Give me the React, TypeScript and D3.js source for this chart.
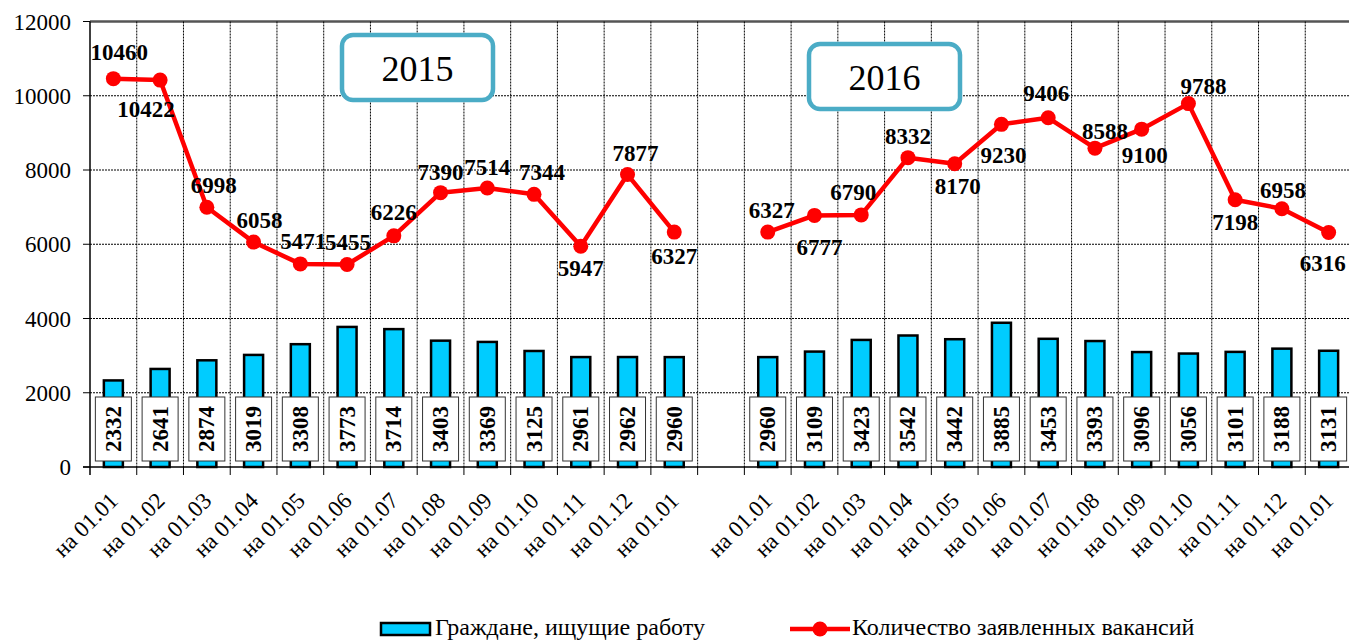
import React from 'react';
import * as d3 from 'd3';

// ---- data ----
const months = ['на 01.01', 'на 01.02', 'на 01.03', 'на 01.04', 'на 01.05', 'на 01.06', 'на 01.07',
  'на 01.08', 'на 01.09', 'на 01.10', 'на 01.11', 'на 01.12', 'на 01.01'];
const years = ['2015', '2016'];
const seekers2015 = [2332, 2641, 2874, 3019, 3308, 3773, 3714, 3403, 3369, 3125, 2961, 2962, 2960];
const seekers2016 = [2960, 3109, 3423, 3542, 3442, 3885, 3453, 3393, 3096, 3056, 3101, 3188, 3131];
const vacancies2015 = [10460, 10422, 6998, 6058, 5471, 5455, 6226, 7390, 7514, 7344, 5947, 7877, 6327];
const vacancies2016 = [6327, 6777, 6790, 8332, 8170, 9230, 9406, 8588, 9100, 9788, 7198, 6958, 6316];
const yTicks = [0, 2000, 4000, 6000, 8000, 10000, 12000];
const seriesNames = ['Граждане, ищущие работу', 'Количество заявленных вакансий'];

// label placement for the line values (dx, dy from the point)
const labelOffsets2015 = [[6, -26], [-14, 29], [7, -22], [6, -22], [3, -22], [1, -22], [0, -23],
  [0, -20], [0, -21], [8, -22], [0, 22], [8, -21], [0, 24]];
const labelOffsets2016 = [[4, -22], [5, 32], [-8, -22], [0, -21], [3, 23], [2, 31], [-2, -24],
  [10, -17], [3, 26], [15, -17], [0, 23], [1, -18], [-6, 31]];

const FONT = "'Liberation Serif', 'Times New Roman', Times, serif";
const W = 1349;
const H = 641;

export default function App() {
  // 13 months of 2015, one empty slot, 13 months of 2016
  const slots = d3.range(27).map(String);
  const x = d3.scaleBand().domain(slots).range([90, 1352]).padding(0);
  const y = d3.scaleLinear().domain([0, 12000]).range([467, 21.5]);
  const bw = x.bandwidth();
  const cx = (i: number) => (x(String(i)) as number) + bw / 2;

  const points = [
    ...vacancies2015.map((v, i) => ({ slot: i, v, bar: seekers2015[i], label: months[i], off: labelOffsets2015[i], grp: 0 })),
    ...vacancies2016.map((v, i) => ({ slot: i + 14, v, bar: seekers2016[i], label: months[i], off: labelOffsets2016[i], grp: 1 })),
  ];

  const line = d3.line<{ slot: number; v: number }>()
    .x(d => cx(d.slot))
    .y(d => y(d.v));

  const barW = 19;

  return (
    <svg width={W} height={H} style={{ position: 'absolute', left: 0, top: 0, background: '#fff', fontFamily: FONT }}>
      {/* horizontal grid */}
      {yTicks.filter(t => t > 0).map(t => (
        <line key={'h' + t} x1={90} x2={1352} y1={y(t)} y2={y(t)}
          stroke={t === 12000 ? '#555' : '#000'} strokeWidth={t === 12000 ? 2.5 : 1}
          strokeDasharray={t === 12000 ? undefined : '2,1'} />
      ))}
      {/* vertical grid and ticks */}
      {d3.range(1, 28).map(k => {
        const gx = 90 + k * bw;
        return (
          <g key={'v' + k}>
            <line x1={gx} x2={gx} y1={y(12000)} y2={y(0)} stroke="#000" strokeWidth={1} strokeDasharray="2,1" />
            <line x1={gx} x2={gx} y1={y(0)} y2={y(0) + 8} stroke="#000" strokeWidth={1} />
          </g>
        );
      })}
      {/* axes */}
      <line x1={90} x2={90} y1={y(12000)} y2={y(0) + 8} stroke="#000" strokeWidth={1.5} />
      <line x1={83} x2={1352} y1={y(0)} y2={y(0)} stroke="#000" strokeWidth={1.5} />
      {yTicks.map(t => (
        <g key={'yt' + t}>
          <line x1={83} x2={90} y1={y(t)} y2={y(t)} stroke="#000" strokeWidth={1} />
          <text x={71} y={y(t)} dy="0.35em" textAnchor="end" fontSize={23} style={{ fontFamily: FONT }}>{t}</text>
        </g>
      ))}

      {/* bars */}
      {points.map(p => (
        <rect key={'b' + p.slot} x={cx(p.slot) - barW / 2} y={y(p.bar)} width={barW} height={y(0) - y(p.bar)}
          fill="#00CCFF" stroke="#000" strokeWidth={2.5} />
      ))}
      {/* bar value boxes */}
      {points.map(p => (
        <g key={'bl' + p.slot} transform={`translate(${cx(p.slot)},429)`}>
          <rect x={-18} y={-32} width={36} height={64} fill="#fff" stroke="#333" strokeWidth={1} />
          <text transform="rotate(-90)" textAnchor="middle" dominantBaseline="central" fontSize={23} fontWeight="bold"
            style={{ fontFamily: FONT }}>{p.bar}</text>
        </g>
      ))}

      {/* year boxes */}
      <g>
        <rect x={342} y={35} width={151} height={65} rx={11} fill="#fff" stroke="#4BACC6" strokeWidth={4.5} />
        <text x={417.5} y={68} dy="0.35em" textAnchor="middle" fontSize={36} style={{ fontFamily: FONT }}>{years[0]}</text>
        <rect x={809} y={44} width={151} height={65} rx={11} fill="#fff" stroke="#4BACC6" strokeWidth={4.5} />
        <text x={884.5} y={77} dy="0.35em" textAnchor="middle" fontSize={36} style={{ fontFamily: FONT }}>{years[1]}</text>
      </g>

      {/* vacancies line, broken between years */}
      {[0, 1].map(g => (
        <path key={'l' + g} d={line(points.filter(p => p.grp === g)) || ''} fill="none" stroke="#FF0000" strokeWidth={4.5} strokeLinejoin="round" />
      ))}
      {points.map(p => (
        <circle key={'c' + p.slot} cx={cx(p.slot)} cy={y(p.v)} r={7.5} fill="#FF0000" />
      ))}
      {points.map(p => (
        <text key={'vl' + p.slot} x={cx(p.slot) + p.off[0]} y={y(p.v) + p.off[1]} dominantBaseline="central"
          textAnchor="middle" fontSize={23} fontWeight="bold" style={{ fontFamily: FONT }}>{p.v}</text>
      ))}

      {/* x labels */}
      {points.map(p => (
        <text key={'xl' + p.slot} transform={`translate(${cx(p.slot) + 6},502) rotate(-45)`}
          textAnchor="end" fontSize={23} style={{ fontFamily: FONT }}>{p.label}</text>
      ))}

      {/* legend */}
      <rect x={381} y={623} width={49} height={12} fill="#00CCFF" stroke="#000" strokeWidth={2.5} />
      <text x={435} y={635} fontSize={24} style={{ fontFamily: FONT }}>{seriesNames[0]}</text>
      <line x1={790} x2={850} y1={629} y2={629} stroke="#FF0000" strokeWidth={4.5} />
      <circle cx={820} cy={629} r={7.5} fill="#FF0000" />
      <text x={852} y={635} fontSize={24} style={{ fontFamily: FONT }}>{seriesNames[1]}</text>
    </svg>
  );
}
